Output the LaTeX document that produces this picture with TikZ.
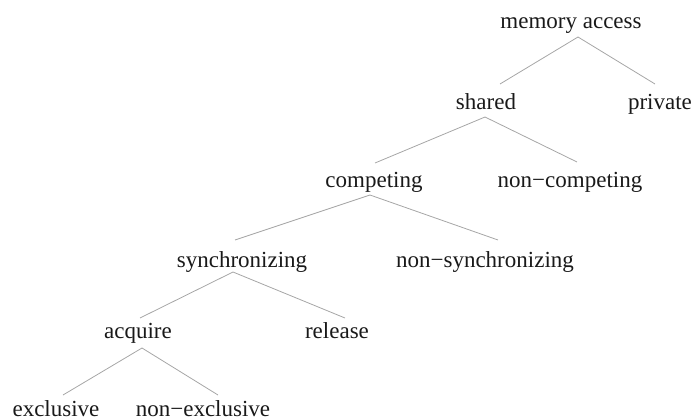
\documentclass[tikz,border=0pt]{standalone}
\usepackage{fontspec}
\setmainfont{Liberation Serif}
\begin{document}
\begin{tikzpicture}[x=1pt,y=1pt,
  term/.style={anchor=base,inner sep=0pt,font=\fontsize{23}{26}\selectfont,text=black!90},
  edge/.style={draw=black!35,line width=0.8pt}]
\useasboundingbox (0,0) rectangle (693,-420);
% tree labels (placed on their baselines)
\node[term] (ma)  at (571,-29)  {memory access};
\node[term] (sh)  at (486,-109) {shared};
\node[term] (pr)  at (660,-109) {private};
\node[term] (co)  at (374,-187) {competing};
\node[term] (nc)  at (570,-187) {non−competing};
\node[term] (sy)  at (242,-267) {synchronizing};
\node[term] (ns)  at (485,-267) {non−synchronizing};
\node[term] (ac)  at (138,-338) {acquire};
\node[term] (re)  at (337,-338) {release};
\node[term] (ex)  at (56,-416)  {exclusive};
\node[term] (ne)  at (203,-416) {non−exclusive};
% branches
\draw[edge] ([shift={(7,-8)}]ma.base)  -- ([shift={(14,25)}]sh.base);
\draw[edge] ([shift={(7,-8)}]ma.base)  -- ([shift={(-5,25)}]pr.base);
\draw[edge] ([shift={(-1,-8)}]sh.base) -- ([shift={(1,24)}]co.base);
\draw[edge] ([shift={(-1,-8)}]sh.base) -- ([shift={(7,25)}]nc.base);
\draw[edge] ([shift={(-4,-8)}]co.base) -- ([shift={(-7,27)}]sy.base);
\draw[edge] ([shift={(-4,-8)}]co.base) -- ([shift={(13,27)}]ns.base);
\draw[edge] ([shift={(-9,-5)}]sy.base) -- ([shift={(2,20)}]ac.base);
\draw[edge] ([shift={(-9,-5)}]sy.base) -- ([shift={(8,20)}]re.base);
\draw[edge] ([shift={(4,-10)}]ac.base) -- ([shift={(7,21)}]ex.base);
\draw[edge] ([shift={(4,-10)}]ac.base) -- ([shift={(15,21)}]ne.base);
\end{tikzpicture}
\end{document}
